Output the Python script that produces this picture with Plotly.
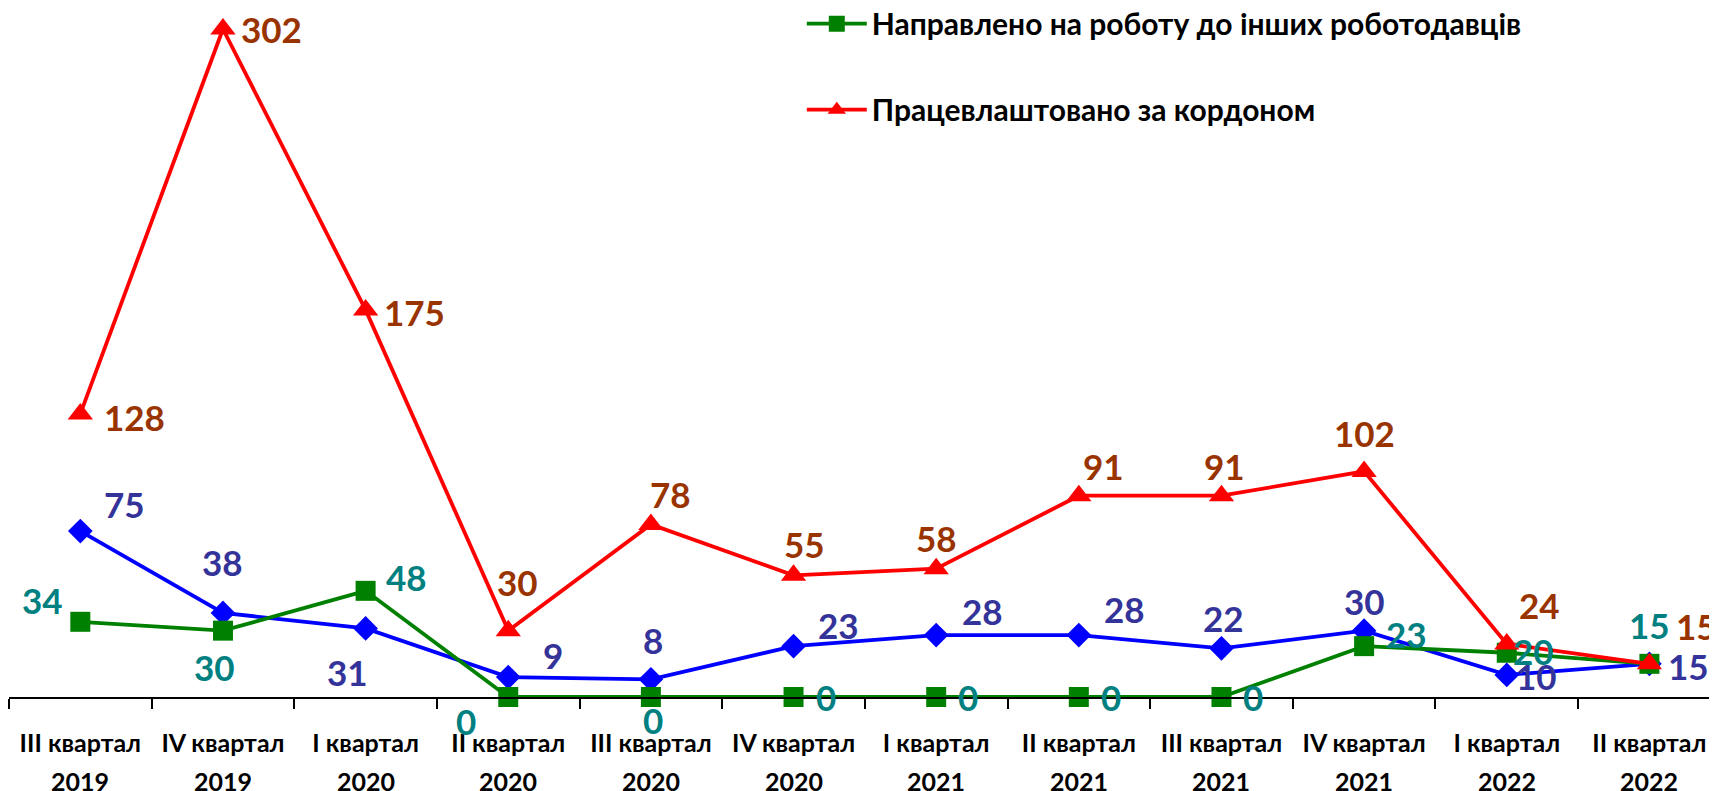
import plotly.graph_objects as go

quarters = ["III квартал", "IV квартал", "I квартал", "II квартал", "III квартал", "IV квартал",
            "I квартал", "II квартал", "III квартал", "IV квартал", "I квартал", "II квартал"]
years = ["2019", "2019", "2020", "2020", "2020", "2020", "2021", "2021", "2021", "2021", "2022", "2022"]
categories = [f"{q} {y}" for q, y in zip(quarters, years)]

name_blue = "Працевлаштовано"
name_green = "Направлено на роботу до інших роботодавців"
name_red = "Працевлаштовано за кордоном"

blue_values = [75, 38, 31, 9, 8, 23, 28, 28, 22, 30, 10, 15]
green_values = [34, 30, 48, 0, 0, 0, 0, 0, 0, 23, 20, 15]
red_values = [128, 302, 175, 30, 78, 55, 58, 91, 91, 102, 24, 15]

# label offsets (screen px: dx right, dy down)
blue_off = [(44, -27), (0, -51), (-18, 44), (45, -22), (2, -39), (45, -21), (46, -24),
            (46, -26), (2, -30), (0, -30), (30, 1), (39, 2)]
green_off = [(-38, -22), (-8, 36), (41, -14), (-42, 24), (2, 23), (32, 0), (32, 0),
             (32, 0), (32, 0), (42, -12), (27, -2), (0, -39)]
red_off = [(54, 3), (49, 0), (49, 2), (9, -49), (20, -30), (11, -31), (0, -31),
           (25, -30), (3, -30), (0, -38), (33, -39), (47, -38)]

FONT = "Lato, 'Open Sans', sans-serif"

fig = go.Figure()
series = [
    (name_blue, blue_values, "#0000FF", "diamond", 19, "#333399", blue_off, False),
    (name_green, green_values, "#008000", "square", 20, "#008080", green_off, True),
    (name_red, red_values, "#FF0000", "triangle-up", 22, "#993300", red_off, True),
]
annotations = []
for name, vals, col, sym, size, lcol, offs, show in series:
    fig.add_trace(go.Scatter(
        x=categories, y=vals, name=name, mode="lines+markers",
        line=dict(color=col, width=3.8),
        marker=dict(symbol=sym, size=size, color=col),
        cliponaxis=False, showlegend=show, legendgroup=name,
    ))
    for c, v, (dx, dy) in zip(categories, vals, offs):
        annotations.append(dict(
            x=c, y=v, xref="x", yref="y", text=str(v), showarrow=False,
            xshift=dx, yshift=-dy,
            font=dict(family=FONT, size=35, color=lcol, weight="bold"),
        ))

for c, y in zip(categories, years):
    annotations.append(dict(
        x=c, y=0, xref="x", yref="paper", text=y, showarrow=False,
        yshift=-101, font=dict(family=FONT, size=25, color="black", weight="bold"),
    ))

fig.update_layout(
    width=1717, height=791,
    margin=dict(l=1, r=0, t=0, b=102, autoexpand=False),
    plot_bgcolor="white", paper_bgcolor="white",
    font=dict(family=FONT, size=25, color="black"),
    showlegend=True,
    legend=dict(x=0.462, y=1.015, xanchor="left", yanchor="top",
                font=dict(family=FONT, size=30, color="black", weight="bold"),
                itemwidth=60,
                tracegroupgap=44, bgcolor="rgba(0,0,0,0)"),
    annotations=annotations,
)
fig.update_xaxes(
    type="category", range=[-0.5, 11.53], automargin=False,
    tickmode="array", tickvals=categories, ticktext=quarters,
    tickson="boundaries", ticks="outside", ticklen=10, tickwidth=2, tickcolor="black",
    showline=True, linecolor="black", linewidth=2, showgrid=False, zeroline=False,
    tickfont=dict(family=FONT, size=25, color="black", weight="bold"),
    ticklabelstandoff=23,
)
fig.update_yaxes(range=[0, 311.5], visible=False, showgrid=False, zeroline=False,
                 automargin=False)

fig.write_html("out.html")
